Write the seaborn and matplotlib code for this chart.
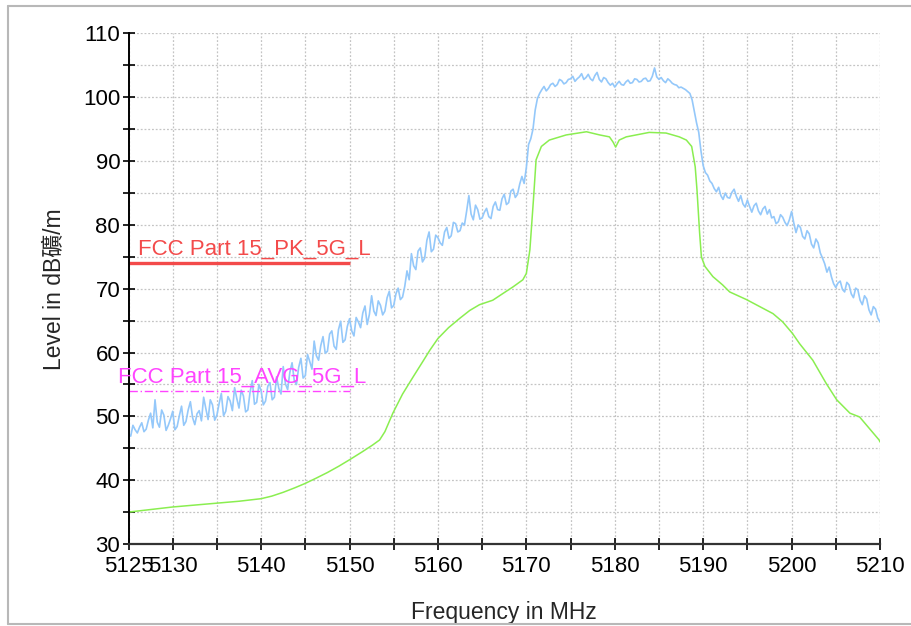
import numpy as np
import pandas as pd
import matplotlib
matplotlib.use('Agg')
import matplotlib.pyplot as plt
from matplotlib.lines import Line2D
from matplotlib.ticker import MultipleLocator, FixedLocator
import seaborn as sns

# peak trace, every 0.25 MHz from 5125 to 5210
pk_level = [
    47.2, 46.9, 48.6, 47.9, 47.4, 48.3, 49.0, 47.6, 48.0, 49.4, 50.5, 48.2, 52.6, 49.1, 48.3, 51.0, 50.2, 47.8, 48.6, 49.6,
    50.8, 47.9, 48.4, 50.1, 51.6, 48.6, 49.2, 51.0, 52.3, 49.8, 48.7, 50.4, 50.9, 49.3, 53.0, 51.2, 49.5, 52.6, 51.8, 49.4,
    50.2, 52.0, 53.6, 50.1, 50.8, 53.1, 52.4, 50.9, 54.5, 52.8, 51.3, 54.1, 53.2, 50.7, 51.0, 53.8, 55.6, 51.9, 52.2, 55.0,
    54.0, 51.8, 52.4, 54.7, 55.3, 52.6, 53.0, 56.2, 54.4, 53.5, 57.8, 55.1, 54.2, 56.9, 58.4, 55.6, 55.0, 57.7, 59.1, 56.0,
    56.4, 59.7, 58.6, 57.4, 61.8, 59.5, 58.8, 61.1, 62.5, 59.9, 60.2, 62.9, 63.4, 61.0, 60.5, 63.6, 64.9, 61.6, 62.0, 64.1,
    65.3, 63.4, 62.6, 65.5, 64.8, 63.9, 66.2, 67.3, 64.4, 66.0, 68.9, 66.5, 65.8, 68.1, 67.4, 65.9, 66.5, 68.6, 69.6, 67.0,
    67.4, 69.2, 70.1, 68.3, 68.7, 70.4, 72.8, 71.4, 75.5, 73.6, 73.0, 75.9, 76.4, 74.2, 74.8, 77.6, 78.9, 75.8, 76.2, 78.4,
    78.0, 77.2, 76.8, 78.9, 79.6, 77.9, 78.3, 80.4, 80.2, 78.9, 79.1, 80.3, 80.0, 82.2, 84.6, 81.7, 80.8, 83.1, 82.4, 80.9,
    81.1, 82.0, 82.6, 81.3, 81.0, 82.9, 83.6, 82.4, 82.3, 84.1, 84.8, 83.2, 83.5, 85.3, 85.6, 84.3, 84.8, 86.4, 87.6, 86.5,
    89.0, 92.6, 93.5, 95.0, 98.0, 99.8, 100.6, 101.2, 101.7, 101.0, 101.4, 102.0, 102.2, 101.7, 102.0, 102.8, 102.6, 102.1, 102.3, 102.8,
    102.9, 103.3, 102.5, 102.9, 103.2, 103.7, 102.8, 103.1, 103.6, 102.9, 102.6, 103.4, 103.9, 102.8, 102.4, 103.1, 102.9, 102.3, 101.9, 102.2,
    101.6, 102.1, 102.5, 102.0, 101.9, 102.4, 102.7, 102.2, 102.3, 102.9, 102.8, 102.4, 102.5, 102.9, 103.0, 102.5, 102.6, 103.3, 104.6, 103.2,
    102.8, 103.1, 102.6, 102.3, 102.9, 102.6, 102.2, 102.0, 101.9, 101.5, 101.6, 101.4, 101.2, 100.9, 100.6, 99.6, 97.8, 96.0, 94.5, 91.6,
    89.3, 88.2, 87.8, 86.9, 86.5, 85.7, 85.2, 85.9, 84.6, 84.0, 85.0, 84.3, 84.2, 85.1, 85.6, 84.5, 83.7, 84.6, 83.3, 82.8,
    83.9, 82.9, 82.0, 83.0, 83.4, 82.2, 81.6, 82.5, 82.9, 81.7, 82.4, 81.1, 81.3, 80.2, 80.5, 81.6, 81.2, 80.4, 79.9, 80.8,
    82.1, 80.3, 78.8, 80.0, 79.6, 78.2, 77.8, 79.1, 78.6, 77.0, 76.4, 77.8, 77.2, 75.6, 74.8, 73.9, 72.6, 73.4, 71.9, 70.8,
    70.2, 70.9, 71.2, 69.9, 69.5, 71.0, 70.6, 69.2, 68.6, 70.1, 69.8, 68.2, 67.5, 68.9, 68.4, 66.7, 65.9, 67.2, 66.8, 65.4,
    64.8,
]
pk_freq = np.linspace(5125, 5210, len(pk_level))

# average trace
avg_freq = [
    5125.0, 5127.5, 5130.0, 5132.5, 5135.0, 5137.5, 5140.0, 5141.2, 5142.5, 5143.8,
    5145.0, 5146.2, 5147.5, 5148.8, 5150.0, 5151.5, 5152.6, 5153.4, 5154.0, 5154.9,
    5156.0, 5157.2, 5158.2, 5159.1, 5160.0, 5161.2, 5162.5, 5163.6, 5164.7, 5166.2,
    5167.4, 5168.5, 5169.6, 5170.0, 5170.4, 5170.8, 5171.1, 5171.7, 5172.6, 5174.5,
    5176.8, 5178.3, 5179.4, 5179.8, 5180.1, 5180.5, 5181.3, 5183.9, 5185.8, 5187.3,
    5188.1, 5188.7, 5189.1, 5189.3, 5189.6, 5189.8, 5190.2, 5191.1, 5192.2, 5193.0,
    5194.9, 5196.4, 5197.9, 5199.0, 5200.1, 5200.9, 5202.4, 5203.9, 5205.1, 5206.6,
    5207.7, 5208.8, 5209.9, 5210.0,
]
avg_level = [
    35.0, 35.4, 35.8, 36.1, 36.4, 36.7, 37.1, 37.5, 38.1, 38.8,
    39.5, 40.3, 41.2, 42.2, 43.2, 44.5, 45.5, 46.3, 47.6, 50.5,
    53.5, 56.2, 58.4, 60.4, 62.2, 63.9, 65.4, 66.6, 67.5, 68.2,
    69.3, 70.3, 71.4, 72.4, 76.1, 83.9, 90.2, 92.3, 93.3, 94.1,
    94.6, 94.1, 93.8, 93.0, 92.2, 93.3, 93.8, 94.5, 94.4, 93.8,
    93.3, 92.3, 89.1, 85.5, 78.7, 75.0, 73.5, 71.9, 70.6, 69.5,
    68.3, 67.2, 66.1, 64.8, 63.0, 61.4, 58.8, 55.2, 52.6, 50.5,
    49.9, 48.1, 46.3, 46.0,
]

# limit lines
limit_freq = [5125, 5150]
pk_limit = [74, 74]
avg_limit = [54, 54]
pk_limit_name = 'FCC Part 15_PK_5G_L'
avg_limit_name = 'FCC Part 15_AVG_5G_L'

x_ticks = [5125, 5130, 5140, 5150, 5160, 5170, 5180, 5190, 5200, 5210]

sns.set_style('white')
plt.rcParams['font.family'] = ['Liberation Sans', 'Noto Sans CJK TC', 'DejaVu Sans']

pk_df = pd.DataFrame({'freq': pk_freq, 'level': pk_level})
avg_df = pd.DataFrame({'freq': avg_freq, 'level': avg_level})

fig = plt.figure(figsize=(9.12, 6.26), dpi=100)
ax = fig.add_axes([0.1409, 0.131, 0.824, 0.8155])

sns.lineplot(data=pk_df, x='freq', y='level', ax=ax, color='#94c8fa', lw=1.2)
sns.lineplot(data=avg_df, x='freq', y='level', ax=ax, color='#8aee50', lw=1.1)

ax.plot(limit_freq, pk_limit, color='#f34a4a', lw=2.4, solid_capstyle='butt')
ax.plot(limit_freq, avg_limit, color='#ff44ff', lw=1.0, ls=(0, (6, 2, 1, 2)))
ax.text(5126.1, 74.5, pk_limit_name, color='#f34a4a', fontsize=16, va='bottom', ha='left')
ax.text(5123.8, 54.5, avg_limit_name, color='#ff44ff', fontsize=16, va='bottom', ha='left',
        clip_on=False)

ax.set_xlim(5125, 5210)
ax.set_ylim(30, 110)
ax.xaxis.set_major_locator(FixedLocator(x_ticks))
ax.xaxis.set_minor_locator(MultipleLocator(5))
ax.yaxis.set_major_locator(MultipleLocator(10))
ax.yaxis.set_minor_locator(MultipleLocator(5))

ax.grid(True, which='both', color='#c4c4c4', ls=(0, (1.5, 1.5)), lw=0.9)
ax.set_axisbelow(True)
for s in ['top', 'right']:
    ax.spines[s].set_visible(False)
ax.spines['left'].set_color('black')
ax.spines['bottom'].set_color('#333333')
ax.spines['left'].set_linewidth(1.4)
ax.spines['bottom'].set_linewidth(1.6)
ax.tick_params(which='both', direction='inout', length=8, width=1.2, labelsize=16,
               colors='black', bottom=True, left=True)
ax.tick_params(axis='x', which='both', pad=5)
ax.tick_params(axis='y', which='both', pad=2)

ax.set_xlabel('Frequency in MHz', fontsize=16.5, labelpad=17)
ax.set_ylabel('Level in dB礦/m', fontsize=16.5, labelpad=12)

# light frame around the figure
frame = dict(color='#b8b8b8', lw=1.5, transform=fig.transFigure)
fig.add_artist(Line2D([8 / 912, 1.0], [1 - 6 / 626, 1 - 6 / 626], **frame))
fig.add_artist(Line2D([8 / 912, 8 / 912], [1 - 6 / 626, 2 / 626], **frame))
fig.add_artist(Line2D([8 / 912, 1.0], [2 / 626, 2 / 626], **frame))

fig.savefig('out.png', dpi=100)
